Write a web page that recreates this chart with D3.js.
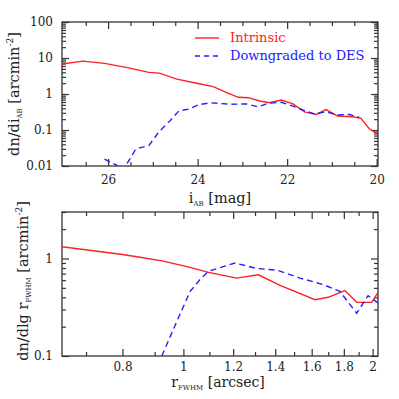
<!DOCTYPE html>
<html>
<head>
<meta charset="utf-8">
<style>
    body
    {
        margin:0;
        background:white;
    }
    text
    {
        font-family:"DejaVu Serif", serif;
        fill:#222;
    }
    .tick line
    {
        stroke:#333;
        stroke-width:1.2px;
    }
    .domain
    {
        display:none;
    }
</style>
<script src="https://d3js.org/d3.v7.min.js"></script>
</head>
<body>
<svg id="chart" width="399" height="399"></svg>
<script>
    // top panel: number counts vs i magnitude
    var magIntrinsic = [27.03, 26.56, 26.08, 25.57, 25.09, 24.86, 24.46, 24.05, 23.65, 23.35, 23.09, 22.87, 22.61, 22.39, 22.13, 21.87, 21.61, 21.35, 21.13, 20.87, 20.54, 20.35, 20.17, 20.0];
    var dnIntrinsic = [6.8, 8.2, 7.1, 5.4, 4.0, 3.8, 2.6, 2.02, 1.6, 1.09, 0.81, 0.79, 0.64, 0.57, 0.68, 0.53, 0.32, 0.27, 0.37, 0.245, 0.234, 0.21, 0.11, 0.081];
    var magDES = [26.08, 25.82, 25.67, 25.38, 25.09, 24.86, 24.6, 24.42, 24.2, 23.98, 23.72, 23.28, 22.9, 22.65, 22.43, 22.13, 21.87, 21.65, 21.39, 21.13, 20.87, 20.61, 20.39];
    var dnDES = [0.0156, 0.0107, 0.0075, 0.0297, 0.037, 0.09, 0.19, 0.337, 0.38, 0.5, 0.57, 0.52, 0.53, 0.44, 0.55, 0.59, 0.46, 0.36, 0.28, 0.32, 0.26, 0.27, 0.225];

    // bottom panel: counts vs FWHM size
    var rIntrinsic = [0.641, 0.8, 0.853, 0.929, 1.025, 1.096, 1.216, 1.316, 1.425, 1.62, 1.70, 1.807, 1.887, 1.993, 2.04];
    var sizeIntrinsic = [1.32, 1.1, 1.03, 0.94, 0.81, 0.72, 0.63, 0.68, 0.53, 0.378, 0.40, 0.47, 0.355, 0.355, 0.45];
    var rDES = [0.924, 0.976, 1.025, 1.063, 1.096, 1.208, 1.308, 1.41, 1.533, 1.67, 1.774, 1.887, 1.967, 2.04];
    var sizeDES = [0.1, 0.226, 0.46, 0.61, 0.74, 0.90, 0.79, 0.76, 0.63, 0.54, 0.46, 0.275, 0.416, 0.35];

    var magMajor = [26, 24, 22, 20];
    var magMinor = [26.5, 25.5, 25, 24.5, 23.5, 23, 22.5, 21.5, 21, 20.5];
    var dnMajor = [100, 10, 1, 0.1, 0.01];
    var dnLabels = ["100", "10", "1", "0.1", "0.01"];
    var rMajor = [0.8, 1, 1.2, 1.4, 1.6, 1.8, 2];
    var rLabels = ["0.8", "1", "1.2", "1.4", "1.6", "1.8", "2"];
    var rMinor = [0.7, 0.9, 1.1, 1.3, 1.5, 1.7, 1.9];
    var sizeMajor = [1, 0.1];
    var sizeLabels = ["1", "0.1"];

    var red = "#ff2020";
    var blue = "#2020ff";

    var svg = d3.select("#chart");

    var logMinors = function(lo, hi)
    {
        var out = [];
        for (var e = Math.floor(Math.log10(lo)); e <= Math.ceil(Math.log10(hi)); e++)
        {
            for (var k = 2; k <= 9; k++)
            {
                var v = k * Math.pow(10, e);
                if (v >= lo * 0.999 && v <= hi * 1.001) out.push(v);
            }
        }
        return out;
    }

    var drawPanel = function(p)
    {
        var g = svg.append("g");
        var xScale = p.xScale, yScale = p.yScale;
        var x0 = xScale.range()[0], x1 = xScale.range()[1];
        var y0 = yScale.range()[0], y1 = yScale.range()[1];

        // major ticks with labels, inward
        g.append("g").attr("transform", "translate(0," + y0 + ")")
            .call(d3.axisBottom(xScale).tickValues(p.xMajor).tickSizeInner(-7).tickSizeOuter(0)
                .tickPadding(p.xPad).tickFormat(function(d, i) { return p.xLabels[i]; }))
            .selectAll("text").style("font-size", "12px");
        g.append("g").attr("transform", "translate(0," + y1 + ")")
            .call(d3.axisTop(xScale).tickValues(p.xMajor).tickSizeInner(-7).tickSizeOuter(0).tickFormat(""));
        g.append("g").attr("transform", "translate(" + x0 + ",0)")
            .call(d3.axisLeft(yScale).tickValues(p.yMajor).tickSizeInner(-7).tickSizeOuter(0)
                .tickPadding(9).tickFormat(function(d, i) { return p.yLabels[i]; }))
            .selectAll("text").style("font-size", "12px");
        g.append("g").attr("transform", "translate(" + x1 + ",0)")
            .call(d3.axisRight(yScale).tickValues(p.yMajor).tickSizeInner(-7).tickSizeOuter(0).tickFormat(""));

        // minor ticks
        g.append("g").attr("transform", "translate(0," + y0 + ")")
            .call(d3.axisBottom(xScale).tickValues(p.xMinor).tickSizeInner(-4).tickSizeOuter(0).tickFormat(""));
        g.append("g").attr("transform", "translate(0," + y1 + ")")
            .call(d3.axisTop(xScale).tickValues(p.xMinor).tickSizeInner(-4).tickSizeOuter(0).tickFormat(""));
        g.append("g").attr("transform", "translate(" + x0 + ",0)")
            .call(d3.axisLeft(yScale).tickValues(p.yMinor).tickSizeInner(-4).tickSizeOuter(0).tickFormat(""));
        g.append("g").attr("transform", "translate(" + x1 + ",0)")
            .call(d3.axisRight(yScale).tickValues(p.yMinor).tickSizeInner(-4).tickSizeOuter(0).tickFormat(""));

        g.append("rect")
            .attr("x", x0).attr("y", y1)
            .attr("width", x1 - x0).attr("height", y0 - y1)
            .attr("fill", "none").attr("stroke", "#333").attr("stroke-width", 1.3);

        var clipId = p.id + "clip";
        svg.append("clipPath").attr("id", clipId)
            .append("rect")
            .attr("x", x0).attr("y", y1)
            .attr("width", x1 - x0).attr("height", y0 - y1);

        var line = d3.line()
            .x(function(d) { return xScale(d[0]); })
            .y(function(d) { return yScale(d[1]); });

        p.series.forEach(function(s)
        {
            g.append("path")
                .datum(d3.zip(s.x, s.y))
                .attr("clip-path", "url(#" + clipId + ")")
                .attr("d", line)
                .attr("fill", "none")
                .attr("stroke", s.color)
                .attr("stroke-width", 1.4)
                .attr("stroke-dasharray", s.dash);
        });
        return g;
    }

    // top panel
    var xTop = d3.scaleLinear().domain([27.03, 19.97]).range([62, 378]);
    var yTop = d3.scaleLog().domain([0.01, 100]).range([166, 22]);
    drawPanel({
        id: "top", xScale: xTop, yScale: yTop,
        xMajor: magMajor, xLabels: magMajor.map(String), xMinor: magMinor, xPad: 9,
        yMajor: dnMajor, yLabels: dnLabels, yMinor: logMinors(0.01, 100),
        series: [
            {x: magIntrinsic, y: dnIntrinsic, color: red, dash: null},
            {x: magDES, y: dnDES, color: blue, dash: "6,4"}
        ]
    });

    // bottom panel
    var xBot = d3.scaleLog().domain([0.641, 2.04]).range([62, 378]);
    var yBot = d3.scaleLog().domain([0.1, 3]).range([356, 212]);
    drawPanel({
        id: "bot", xScale: xBot, yScale: yBot,
        xMajor: rMajor, xLabels: rLabels, xMinor: rMinor, xPad: 6,
        yMajor: sizeMajor, yLabels: sizeLabels, yMinor: logMinors(0.1, 3),
        series: [
            {x: rIntrinsic, y: sizeIntrinsic, color: red, dash: null},
            {x: rDES, y: sizeDES, color: blue, dash: "6,4"}
        ]
    });

    // legend
    var legend = svg.append("g");
    legend.append("line").attr("x1", 195).attr("x2", 219).attr("y1", 38).attr("y2", 38)
        .attr("stroke", red).attr("stroke-width", 1.4);
    legend.append("text").attr("x", 230).attr("y", 42).text("Intrinsic")
        .style("fill", red).style("font-size", "13px");
    legend.append("line").attr("x1", 195).attr("x2", 219).attr("y1", 56).attr("y2", 56)
        .attr("stroke", blue).attr("stroke-width", 1.4).attr("stroke-dasharray", "5,4");
    legend.append("text").attr("x", 230).attr("y", 60).text("Downgraded to DES")
        .style("fill", blue).style("font-size", "13px");

    // axis titles
    var title = function(x, y, rotate, size, parts)
    {
        var t = svg.append("text")
            .attr("transform", "translate(" + x + "," + y + ")" + (rotate ? " rotate(-90)" : ""))
            .attr("text-anchor", "middle")
            .style("font-size", size);
        parts.forEach(function(pt)
        {
            var s = t.append("tspan").text(pt.t);
            if (pt.sub) s.style("font-size", "7px").attr("dy", 3);
            if (pt.sup) s.style("font-size", "9px").attr("dy", -6);
            if (pt.back) s.attr("dy", pt.back);
        });
    }
    title(220, 203, false, "14.5px", [
        {t: "i"}, {t: "AB", sub: true}, {t: " [mag]", back: -3}
    ]);
    title(218, 387, false, "14px", [
        {t: "r"}, {t: "FWHM", sub: true}, {t: " [arcsec]", back: -3}
    ]);
    title(19, 94, true, "14.5px", [
        {t: "dn/di"}, {t: "AB", sub: true}, {t: " [arcmin", back: -3}, {t: "-2", sup: true}, {t: "]", back: 6}
    ]);
    title(28, 281, true, "14.5px", [
        {t: "dn/dlg r"}, {t: "FWHM", sub: true}, {t: " [arcmin", back: -3}, {t: "-2", sup: true}, {t: "]", back: 6}
    ]);
</script>
</body>
</html>
